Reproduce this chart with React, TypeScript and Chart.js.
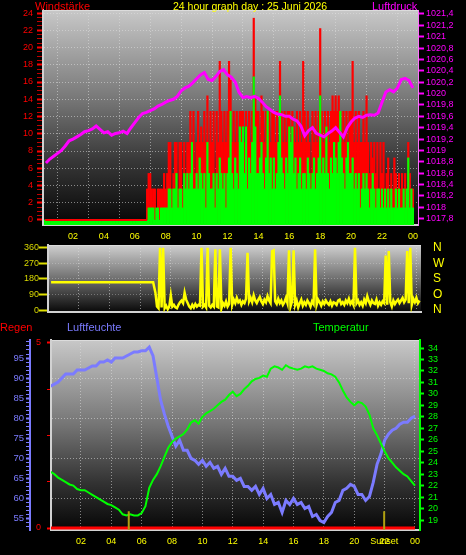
import React, { useEffect, useRef } from "react";
import { Chart, registerables } from "chart.js";

Chart.register(...registerables);

const FONT = '"Liberation Sans", Arial, Helvetica, sans-serif';

// ---------- shared time axis ----------
const hourTicks = [2, 4, 6, 8, 10, 12, 14, 16, 18, 20, 22, 24];
const hourLabels = ["02", "04", "06", "08", "10", "12", "14", "16", "18", "20", "22", "00"];

// ---------- panel 1 : wind speed (bars) + pressure ----------
const windAxisLabels = [0, 2, 4, 6, 8, 10, 12, 14, 16, 18, 20, 22, 24];
const pressureAxisTicks = [1017.8, 1018, 1018.2, 1018.4, 1018.6, 1018.8, 1019, 1019.2, 1019.4, 1019.6, 1019.8, 1020, 1020.2, 1020.4, 1020.6, 1020.8, 1021, 1021.2, 1021.4];

const windStartHour = 0.2;
const windStepHours = 0.1;
// gusts (red), one value every 6 minutes from 00:12
const windGusts = [
  0, 0, 0, 0, 0, 0, 0, 0,
  0, 0, 0, 0, 0, 0, 0, 0, 0, 0,
  0, 0, 0, 0, 0, 0, 0, 0, 0, 0,
  0, 0, 0, 0, 0, 0, 0, 0, 0, 0,
  0, 0, 0, 0, 0, 0, 0, 0, 0, 0,
  0, 0, 0, 0, 0, 0, 0, 0, 0, 0,
  0, 0, 0, 0, 0, 0, 0, 0, 3.6, 5.4,
  5.4, 3.6, 3.6, 3.6, 0, 3.6, 3.6, 3.6, 3.6, 5.4,
  3.6, 5.4, 9.0, 9.0, 3.6, 5.4, 9.0, 9.0, 3.6, 9.0,
  9.0, 3.6, 9.0, 5.4, 9.0, 9.0, 12.6, 9.0, 12.6, 5.4,
  9.0, 12.6, 9.0, 10.8, 9.0, 12.6, 9.0, 14.4, 9.0, 12.6,
  9.0, 12.6, 5.4, 12.6, 9.0, 18.4, 12.6, 9.0, 12.6, 9.0,
  12.6, 18.4, 16.2, 9.0, 12.6, 9.0, 12.6, 9.0, 12.6, 12.6,
  12.6, 9.0, 12.6, 10.8, 12.6, 9.0, 12.6, 23.4, 14.4, 12.6,
  12.6, 9.0, 14.4, 12.6, 9.0, 12.6, 9.0, 12.6, 9.0, 12.6,
  12.6, 9.0, 12.6, 9.0, 18.4, 12.6, 9.0, 12.6, 9.0, 12.6,
  12.6, 9.0, 12.6, 10.8, 9.0, 12.6, 9.0, 12.6, 9.0, 18.4,
  12.6, 9.0, 12.6, 9.0, 5.4, 12.6, 9.0, 12.6, 9.0, 12.6,
  22.2, 12.6, 9.0, 12.6, 10.8, 12.6, 9.0, 12.6, 14.4, 12.6,
  14.4, 12.6, 14.4, 12.6, 9.0, 12.6, 9.0, 12.6, 9.0, 12.6,
  12.6, 18.4, 9.0, 12.6, 9.0, 12.6, 9.0, 9.0, 12.6, 9.0,
  14.4, 9.0, 5.4, 9.0, 7.2, 9.0, 5.4, 9.0, 3.6, 9.0,
  5.4, 9.0, 3.6, 5.4, 7.2, 3.6, 5.4, 3.6, 7.2, 5.4,
  3.6, 5.4, 3.6, 5.4, 3.6, 5.4, 3.6, 9.0, 5.4, 3.6,
  3.6,
];
// mean wind (green)
const windMean = [
  0, 0, 0, 0, 0, 0, 0, 0,
  0, 0, 0, 0, 0, 0, 0, 0, 0, 0,
  0, 0, 0, 0, 0, 0, 0, 0, 0, 0,
  0, 0, 0, 0, 0, 0, 0, 0, 0, 0,
  0, 0, 0, 0, 0, 0, 0, 0, 0, 0,
  0, 0, 0, 0, 0, 0, 0, 0, 0, 0,
  0, 0, 0, 0, 0, 0, 0, 0, 0, 1.4,
  1.4, 1.4, 1.4, 0, 1.4, 1.4, 0, 1.4, 1.4, 1.4,
  1.4, 1.4, 3.6, 3.6, 1.4, 3.6, 3.6, 5.4, 1.4, 3.6,
  3.6, 1.4, 5.4, 3.6, 5.4, 3.6, 5.4, 9.0, 3.6, 3.6,
  5.4, 3.6, 7.2, 5.4, 3.6, 5.4, 1.4, 9.0, 5.4, 3.6,
  3.6, 5.4, 1.4, 5.4, 3.6, 7.2, 5.4, 3.6, 5.4, 1.4,
  5.4, 7.2, 12.6, 5.4, 3.6, 7.2, 5.4, 3.6, 10.8, 9.0,
  10.8, 5.4, 10.8, 3.6, 7.2, 5.4, 9.0, 16.6, 10.8, 5.4,
  5.4, 7.2, 9.0, 5.4, 3.6, 7.2, 12.6, 5.4, 7.2, 3.6,
  7.2, 3.6, 5.4, 9.0, 14.4, 7.2, 5.4, 3.6, 7.2, 5.4,
  10.8, 9.0, 10.8, 5.4, 7.2, 3.6, 5.4, 7.2, 3.6, 5.4,
  5.4, 3.6, 7.2, 5.4, 3.6, 5.4, 7.2, 3.6, 5.4, 7.2,
  14.4, 5.4, 7.2, 5.4, 10.8, 5.4, 3.6, 7.2, 5.4, 9.0,
  7.2, 5.4, 9.0, 12.6, 7.2, 5.4, 3.6, 7.2, 9.0, 5.4,
  5.4, 7.2, 3.6, 5.4, 3.6, 5.4, 1.4, 3.6, 5.4, 3.6,
  5.4, 3.6, 1.4, 3.6, 5.4, 3.6, 1.4, 3.6, 3.6, 1.4,
  3.6, 1.4, 3.6, 1.4, 3.6, 1.4, 3.6, 1.4, 1.4, 3.6,
  1.4, 3.6, 1.4, 1.4, 3.6, 1.4, 3.6, 7.2, 1.4, 3.6,
  1.4,
];
// calm night: gusts stayed at 0
const calmHours = [0.2, 6.8];
const calmGusts = [0, 0];

const pressureStartHour = 0.25;
const pressureStepHours = 0.25;
const pressure = [
  1018.78, 1018.85, 1018.9,
  1018.95, 1019.0, 1019.08, 1019.17,
  1019.2, 1019.24, 1019.28, 1019.33,
  1019.35, 1019.38, 1019.43, 1019.37,
  1019.31, 1019.33, 1019.27, 1019.3,
  1019.31, 1019.34, 1019.3, 1019.4,
  1019.49, 1019.58, 1019.65, 1019.67,
  1019.7, 1019.73, 1019.78, 1019.81,
  1019.85, 1019.88, 1019.9, 1019.95,
  1020.05, 1020.1, 1020.13, 1020.19,
  1020.26, 1020.33, 1020.37, 1020.25,
  1020.23, 1020.3, 1020.39, 1020.42,
  1020.33, 1020.29, 1020.2, 1020.02,
  1019.93, 1019.95, 1019.93, 1019.95,
  1019.92, 1019.85, 1019.77, 1019.72,
  1019.67, 1019.64, 1019.63, 1019.6,
  1019.6, 1019.55, 1019.52, 1019.43,
  1019.26, 1019.35, 1019.4, 1019.3,
  1019.27, 1019.24, 1019.3, 1019.34,
  1019.4, 1019.32, 1019.24, 1019.4,
  1019.5, 1019.57, 1019.6, 1019.58,
  1019.62, 1019.63, 1019.62, 1019.66,
  1019.85, 1020.03, 1020.07, 1020.03,
  1020.1, 1020.25, 1020.27, 1020.23,
  1020.1,
];

// ---------- panel 2 : wind direction ----------
const dirAxisTicks = [0, 90, 180, 270, 360];
const dirLetters = ["N", "O", "S", "W", "N"];
const dirCalmHours = [0.2, 6.85];
const dirCalm = [160, 160];
const dirStartHour = 7.0;
const dirStepHours = 0.1;
const direction = [
  100, 20, 10, 360, 15, 360, 10, 25, 5, 20,
  85, 20, 30, 15, 10, 30, 45, 55, 40, 100,
  60, 40, 20, 10, 30, 15, 35, 20, 30, 25,
  360, 20, 30, 15, 360, 25, 15, 30, 20, 350,
  20, 15, 350, 10, 40, 25, 50, 20, 35, 360,
  30, 60, 40, 70, 45, 55, 30, 50, 40, 65,
  330, 50, 70, 45, 85, 55, 40, 60, 75, 50,
  35, 60, 45, 80, 55, 40, 340, 345, 50, 35,
  65, 40, 55, 30, 45, 70, 40, 345, 20, 50,
  345, 30, 55, 15, 40, 60, 25, 45, 30, 55,
  40, 20, 50, 35, 350, 30, 60, 45, 25, 50,
  35, 55, 40, 30, 50, 25, 45, 40, 30, 55,
  60, 35, 45, 30, 55, 40, 65, 35, 50, 30,
  360, 40, 55, 30, 45, 25, 60, 40, 80, 50,
  30, 55, 40, 35, 60, 25, 45, 30, 50, 40,
  315, 30, 340, 45, 20, 55, 35, 50, 60, 40,
  55, 70, 45, 60, 340, 40, 360, 30, 65, 45,
  70, 40, 55,
];

// ---------- panel 3 : rain, humidity, temperature ----------
const climateStartHour = 0;
const climateStepHours = 0.25;
const humidity = [
  88, 88.5, 89, 90,
  91, 91, 91, 92,
  92, 92, 92.5, 93,
  93, 94, 94, 94.5,
  94, 95, 95, 95,
  95.5, 96, 96.5, 96.5,
  96.8, 96.8, 97.7, 95.5,
  90, 84.5, 81, 78,
  75.5, 73, 74.5, 72,
  72, 70, 69.5, 68.5,
  69.5, 68, 69, 67.5,
  68, 66, 67.5, 65.5,
  65.5, 64.5, 65, 63,
  63, 62, 63, 61,
  62.5, 60, 61, 58.5,
  59, 56.5, 59.5, 58.5,
  60, 58.5, 59, 57.5,
  58, 55.5, 56, 54.5,
  54, 55.5, 56.5, 59,
  59.5, 62, 62.5, 63.5,
  63, 61, 61, 59.5,
  60.5, 64, 68.5, 71,
  74.5, 76, 77, 77.5,
  78.5, 79, 79, 80,
  80.5,
];
const temperature = [
  23.2, 23.0, 22.7, 22.5,
  22.3, 22.1, 22.0, 21.7,
  21.6, 21.6, 21.4, 21.2,
  21.0, 20.8, 20.6, 20.4,
  20.3, 20.1, 19.9, 19.5,
  19.4, 19.5, 19.4, 19.4,
  19.6, 20.2, 21.8, 22.5,
  23.0, 23.7, 24.5, 25.3,
  25.8, 26.1, 26.3, 26.5,
  26.9, 27.5, 27.7, 27.4,
  28.0, 28.3, 28.5, 28.7,
  29.0, 29.3, 29.5, 29.9,
  30.2, 29.8, 30.0, 30.4,
  30.7, 31.1, 31.3, 31.4,
  31.6, 31.5, 32.2, 32.4,
  32.3, 32.1, 32.5, 32.3,
  32.2, 32.1, 32.2, 32.4,
  32.3, 32.4, 32.2, 32.1,
  32.0, 31.8, 31.7, 31.5,
  31.0, 30.3, 29.7, 29.3,
  29.0, 29.3, 29.2, 28.9,
  28.2, 27.0, 26.4, 25.7,
  25.0, 24.4, 24.0, 23.6,
  23.3, 23.0, 22.8, 22.4,
  22.0,
];
const rainHours = [0, 2, 4, 6, 8, 10, 12, 14, 16, 18, 20, 22, 24];
const rain = [0, 0, 0, 0, 0, 0, 0, 0, 0, 0, 0, 0, 0];
const rainAxisTicks = [0, 1.25, 2.5, 3.75, 5];
const humidityAxisTicks = [53, 54, 55, 56, 57, 58, 59, 60, 61, 62, 63, 64, 65, 66, 67, 68, 69, 70, 71, 72, 73, 74, 75, 76, 77, 78, 79, 80, 81, 82, 83, 84, 85, 86, 87, 88, 89, 90, 91, 92, 93, 94, 95, 96, 97, 98, 99];
const tempAxisTicks = [19, 20, 21, 22, 23, 24, 25, 26, 27, 28, 29, 30, 31, 32, 33, 34];
const sunriseHour = 5.15;
const sunsetHour = 21.97;
const sunMarkRain = [0.45, -0.05];

// ---------- helpers ----------
const hourAt = (start: number, step: number, i: number) =>
  Math.round((start + step * i) * 1000) / 1000;
const series = (start: number, step: number, values: number[]) =>
  values.map((y, i) => ({ x: hourAt(start, step, i), y }));
const pairs = (xs: number[], ys: number[]) => xs.map((x, i) => ({ x, y: ys[i] }));

const GRID = "rgba(222,222,222,0.55)";
const PLOT_BORDER = "#d2d2d2";
const CLEAR = "rgba(0,0,0,0)";

const bgPlugin = (stops: [number, string][]) => ({
  id: "plotBg",
  beforeDraw(chart: any) {
    const { ctx, chartArea: a } = chart;
    const g = ctx.createLinearGradient(0, a.top, 0, a.bottom);
    stops.forEach(([o, c]) => g.addColorStop(o, c));
    ctx.save();
    ctx.fillStyle = g;
    ctx.fillRect(a.left, a.top, a.right - a.left, a.bottom - a.top);
    ctx.fillStyle = "#dcdcdc";
    ctx.fillRect(a.left, a.top, a.right - a.left, 1);
    ctx.restore();
  },
});

const setTicks = (values: number[]) => (s: any) => {
  s.ticks = values.map((v) => ({ value: v }));
};
const fmtPressure = (v: number) =>
  Math.abs(v - Math.round(v)) < 1e-6 ? String(Math.round(v)) : v.toFixed(1).replace(".", ",");

const hourLabel = (v: number) => {
  const i = hourTicks.indexOf(v);
  return i >= 0 ? hourLabels[i] : "";
};

function windConfig(): any {
  const minorTicks: number[] = [];
  for (let v = 0; v <= 24.001; v += 0.5) minorTicks.push(Math.round(v * 10) / 10);
  return {
    type: "bar",
    data: {
      datasets: [
        {
          type: "line",
          label: "calm",
          data: pairs(calmHours, calmGusts),
          yAxisID: "yW",
          borderColor: "#ff0000",
          borderWidth: 2,
          pointRadius: 0,
          order: -1,
        },
        {
          type: "line",
          label: "Luftdruck",
          data: series(pressureStartHour, pressureStepHours, pressure),
          yAxisID: "yP",
          borderColor: "#ff00ff",
          borderWidth: 3,
          pointRadius: 0,
          tension: 0,
          order: 0,
        },
        {
          type: "bar",
          label: "Mittel",
          data: series(windStartHour, windStepHours, windMean),
          yAxisID: "yW",
          backgroundColor: "#00ff00",
          grouped: false,
          barPercentage: 1,
          categoryPercentage: 1,
          base: -0.58,
          order: 1,
        },
        {
          type: "bar",
          label: "Böen",
          data: series(windStartHour, windStepHours, windGusts),
          yAxisID: "yW",
          backgroundColor: "#ff0000",
          grouped: false,
          barPercentage: 1,
          categoryPercentage: 1,
          order: 2,
        },
      ],
    },
    options: {
      responsive: false,
      animation: false,
      events: [],
      layout: { padding: { top: 10, left: 0, right: 0, bottom: 0 } },
      plugins: { legend: { display: false }, tooltip: { enabled: false } },
      scales: {
        x: {
          type: "linear",
          min: 0.06,
          max: 24.33,
          offset: false,
          afterBuildTicks: setTicks(hourTicks),
          afterFit: (s: any) => {
            s.height = 15;
          },
          ticks: {
            color: "#ffff00",
            font: { size: 9, family: FONT },
            padding: 6,
            autoSkip: false,
            maxRotation: 0,
            minRotation: 0,
            callback: (v: any) => hourLabel(Number(v)),
          },
          grid: { color: GRID, drawTicks: false, lineWidth: 1 },
          border: { color: PLOT_BORDER, width: 2, dash: [1, 2] },
        },
        yW: {
          type: "linear",
          position: "left",
          min: -0.58,
          max: 24.35,
          afterBuildTicks: setTicks(minorTicks),
          afterFit: (s: any) => {
            s.width = 43;
          },
          ticks: {
            color: "#ff0000",
            font: { size: 9, family: FONT, lineHeight: 1 },
            padding: 4,
            autoSkip: false,
            callback: (v: any) => (windAxisLabels.includes(Number(v)) ? String(v) : ""),
          },
          grid: {
            color: (c: any) =>
              c.tick && windAxisLabels.includes(c.tick.value) && c.tick.value > 0 ? GRID : CLEAR,
            tickColor: (c: any) =>
              c.tick && windAxisLabels.includes(c.tick.value) ? "#ff0000" : "#c00000",
            tickWidth: (c: any) => (c.tick && windAxisLabels.includes(c.tick.value) ? 2 : 1),
            tickLength: 6,
          },
          border: { color: PLOT_BORDER, width: 2, dash: [1, 2] },
        },
        yP: {
          type: "linear",
          position: "right",
          min: 1017.69,
          max: 1021.47,
          afterBuildTicks: setTicks(pressureAxisTicks),
          afterFit: (s: any) => {
            s.width = 48;
          },
          ticks: {
            color: "#ff00ff",
            font: { size: 9, family: FONT, lineHeight: 1 },
            padding: 2,
            autoSkip: false,
            callback: (v: any) => fmtPressure(Number(v)),
          },
          grid: { drawOnChartArea: false, tickColor: "#ff00ff", tickLength: 6, tickWidth: 2 },
          border: { color: "#ff70ff", width: 1 },
        },
      },
    },
    plugins: [
      bgPlugin([
        [0, "#c8c8c8"],
        [0.4, "#7a7a7a"],
        [0.7, "#383838"],
        [1, "#050505"],
      ]),
    ],
  };
}

function dirConfig(): any {
  return {
    type: "line",
    data: {
      datasets: [
        {
          label: "Windrichtung",
          data: [...pairs(dirCalmHours, dirCalm), ...series(dirStartHour, dirStepHours, direction)],
          yAxisID: "yD",
          borderColor: "#ffff00",
          borderWidth: 2.5,
          pointRadius: 0,
          tension: 0,
        },
      ],
    },
    options: {
      responsive: false,
      animation: false,
      events: [],
      layout: { padding: { top: 6, left: 0, right: 0, bottom: 8 } },
      plugins: { legend: { display: false }, tooltip: { enabled: false } },
      scales: {
        x: {
          type: "linear",
          min: 0,
          max: 24.3,
          afterBuildTicks: setTicks(hourTicks),
          afterFit: (s: any) => {
            s.height = 0;
          },
          ticks: { display: false },
          grid: { color: GRID, drawTicks: false },
          border: { color: PLOT_BORDER, width: 2, dash: [1, 2] },
        },
        yD: {
          type: "linear",
          position: "left",
          min: -11.4,
          max: 375.4,
          afterBuildTicks: setTicks(dirAxisTicks),
          afterFit: (s: any) => {
            s.width = 48;
          },
          ticks: {
            color: "#d8d800",
            font: { size: 9, family: FONT, lineHeight: 1 },
            padding: 0,
            autoSkip: false,
          },
          grid: {
            color: (c: any) =>
              c.tick && c.tick.value > 0 && c.tick.value < 360 ? "rgba(222,222,222,0.35)" : CLEAR,
            tickColor: "#e0e000",
            tickLength: 9,
            tickWidth: 2,
          },
          border: { color: PLOT_BORDER, width: 2, dash: [1, 2] },
        },
        yL: {
          type: "linear",
          position: "right",
          min: -11.4,
          max: 375.4,
          afterBuildTicks: setTicks(dirAxisTicks),
          afterFit: (s: any) => {
            s.width = 45;
          },
          ticks: {
            color: "#ffff00",
            font: { size: 12, family: FONT, lineHeight: 1 },
            padding: 1,
            autoSkip: false,
            callback: (v: any) => dirLetters[dirAxisTicks.indexOf(Number(v))] ?? "",
          },
          grid: { drawOnChartArea: false, drawTicks: true, tickLength: 11, tickColor: CLEAR },
          border: { display: false },
        },
      },
    },
    plugins: [
      bgPlugin([
        [0, "#cfcfcf"],
        [0.5, "#707070"],
        [1, "#080808"],
      ]),
    ],
  };
}

function climateConfig(): any {
  const xTicks = [...hourTicks, sunsetHour].sort((a, b) => a - b);
  const humidityLabels = [55, 60, 65, 70, 75, 80, 85, 90, 95];
  const humidityGrid = [60, 70, 80, 90];
  return {
    type: "line",
    data: {
      datasets: [
        {
          label: "Sonnenaufgang",
          data: pairs([sunriseHour, sunriseHour], sunMarkRain),
          yAxisID: "yR",
          borderColor: "#b0a010",
          borderWidth: 2,
          pointRadius: 0,
          order: -2,
        },
        {
          label: "Sonnenuntergang",
          data: pairs([sunsetHour, sunsetHour], sunMarkRain),
          yAxisID: "yR",
          borderColor: "#b0a010",
          borderWidth: 2,
          pointRadius: 0,
          order: -2,
        },
        {
          label: "Regen",
          data: pairs(rainHours, rain),
          yAxisID: "yR",
          borderColor: "#ff0000",
          borderWidth: 3,
          pointRadius: 0,
          order: -1,
        },
        {
          label: "Temperatur",
          data: series(climateStartHour, climateStepHours, temperature),
          yAxisID: "yT",
          borderColor: "#00ff00",
          borderWidth: 2,
          pointRadius: 0,
          tension: 0,
          order: 1,
        },
        {
          label: "Luftfeuchte",
          data: series(climateStartHour, climateStepHours, humidity),
          yAxisID: "yH",
          borderColor: "#7b7bff",
          borderWidth: 3,
          pointRadius: 0,
          tension: 0,
          order: 2,
        },
      ],
    },
    options: {
      responsive: false,
      animation: false,
      events: [],
      layout: { padding: { top: 20, left: 0, right: 0, bottom: 0 } },
      plugins: { legend: { display: false }, tooltip: { enabled: false } },
      scales: {
        x: {
          type: "linear",
          min: 0.03,
          max: 24.33,
          afterBuildTicks: setTicks(xTicks),
          afterFit: (s: any) => {
            s.height = 25;
          },
          ticks: {
            color: "#ffff00",
            font: { size: 9, family: FONT },
            padding: 6,
            autoSkip: false,
            maxRotation: 0,
            minRotation: 0,
            callback: (v: any) => (Number(v) === sunsetHour ? "Sunset" : hourLabel(Number(v))),
          },
          grid: {
            color: (c: any) => (c.tick && c.tick.value === sunsetHour ? CLEAR : GRID),
            drawTicks: false,
          },
          border: { color: PLOT_BORDER, width: 2, dash: [1, 2] },
        },
        yH: {
          type: "linear",
          position: "left",
          weight: 2,
          min: 52.13,
          max: 99.49,
          afterBuildTicks: setTicks(humidityAxisTicks),
          afterFit: (s: any) => {
            s.width = 30;
          },
          ticks: {
            color: "#7b7bff",
            font: { size: 9.5, family: FONT, lineHeight: 1 },
            padding: 2,
            autoSkip: false,
            callback: (v: any) => (humidityLabels.includes(Number(v)) ? String(v) : ""),
          },
          grid: {
            color: (c: any) => (c.tick && humidityGrid.includes(c.tick.value) ? GRID : CLEAR),
            tickColor: "#7b7bff",
            tickLength: 4,
            tickWidth: (c: any) => (c.tick && humidityLabels.includes(c.tick.value) ? 2 : 1),
          },
          border: { color: "#7b7bff", width: 2, dash: [1, 2] },
        },
        yR: {
          type: "linear",
          position: "left",
          weight: 1,
          min: -0.054,
          max: 5.08,
          afterBuildTicks: setTicks(rainAxisTicks),
          afterFit: (s: any) => {
            s.width = 21;
          },
          ticks: {
            color: "#ff0000",
            font: { size: 9, family: FONT, lineHeight: 1 },
            padding: 6,
            autoSkip: false,
            callback: (v: any) => (Number(v) === 0 || Number(v) === 5 ? String(v) : ""),
          },
          grid: {
            drawOnChartArea: false,
            tickColor: "#ff0000",
            tickLength: 4,
            tickWidth: (c: any) => (c.tick && (c.tick.value === 0 || c.tick.value === 5) ? 2 : 1),
          },
          border: { color: PLOT_BORDER, width: 2 },
        },
        yT: {
          type: "linear",
          position: "right",
          min: 18.13,
          max: 34.7,
          afterBuildTicks: setTicks(tempAxisTicks),
          afterFit: (s: any) => {
            s.width = 46;
          },
          ticks: {
            color: "#00ff00",
            font: { size: 9, family: FONT, lineHeight: 1 },
            padding: 4,
            autoSkip: false,
          },
          grid: { drawOnChartArea: false, tickColor: "#00ff00", tickLength: 4, tickWidth: 2 },
          border: { color: "#00ff00", width: 2 },
        },
      },
    },
    plugins: [
      bgPlugin([
        [0, "#c8c8c8"],
        [0.45, "#747474"],
        [0.75, "#333333"],
        [1, "#060606"],
      ]),
    ],
  };
}

const textStyle = (left: number, top: number, color: string, size = 11): React.CSSProperties => ({
  position: "absolute",
  left,
  top,
  color,
  fontSize: size,
  lineHeight: "12px",
  whiteSpace: "nowrap",
  fontFamily: FONT,
});

export default function App() {
  const c1 = useRef<HTMLCanvasElement>(null);
  const c2 = useRef<HTMLCanvasElement>(null);
  const c3 = useRef<HTMLCanvasElement>(null);

  useEffect(() => {
    Chart.defaults.font.family = FONT;
    const charts = [
      new Chart(c1.current as HTMLCanvasElement, windConfig()),
      new Chart(c2.current as HTMLCanvasElement, dirConfig()),
      new Chart(c3.current as HTMLCanvasElement, climateConfig()),
    ];
    return () => charts.forEach((c) => c.destroy());
  }, []);

  return (
    <div
      style={{
        position: "absolute",
        left: 0,
        top: 0,
        width: 466,
        height: 555,
        background: "#000",
        overflow: "hidden",
        fontFamily: FONT,
      }}
    >
      <canvas ref={c1} width={466} height={240} style={{ position: "absolute", left: 0, top: 0, width: 466, height: 240 }} />
      <canvas ref={c2} width={466} height={82} style={{ position: "absolute", left: 0, top: 238, width: 466, height: 82 }} />
      <canvas ref={c3} width={466} height={235} style={{ position: "absolute", left: 0, top: 320, width: 466, height: 235 }} />
      <div style={textStyle(35, 0, "#ff0000")}>Windstärke</div>
      <div style={textStyle(173, 0, "#ffff00", 10.5)}>24 hour graph day : 25 Juni 2026</div>
      <div style={textStyle(372, 0, "#ff00ff")}>Luftdruck</div>
      <div style={textStyle(0, 321, "#ff0000")}>Regen</div>
      <div style={textStyle(67, 321, "#7b7bff")}>Luftfeuchte</div>
      <div style={textStyle(313, 321, "#00ff00")}>Temperatur</div>
    </div>
  );
}
